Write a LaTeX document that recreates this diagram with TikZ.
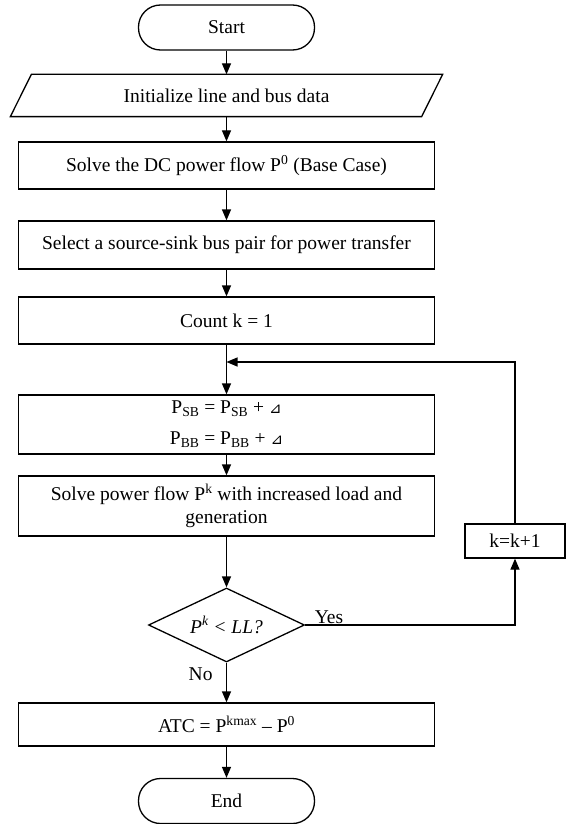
\documentclass[tikz,border=0pt]{standalone}
\usepackage{fontspec}
\setmainfont{Liberation Serif}
\newfontfamily\symfont{DejaVu Sans}
\usetikzlibrary{arrows.meta,shapes.geometric}
\newcommand{\stepsym}{{\symfont\fontsize{15}{15}\selectfont ⊿}}

\begin{document}
\begin{tikzpicture}[x=1pt,y=-1pt,>={Triangle[length=11pt,width=9pt]},
  font=\fontsize{19.5}{23}\selectfont,line width=1.3pt,
  box/.style={draw,minimum width=416pt,inner sep=2pt,align=center},
  term/.style={draw,rounded corners=22pt,minimum width=176pt,minimum height=45pt},
  iobox/.style={minimum width=410pt,minimum height=41pt,inner sep=2pt},
  decide/.style={draw,diamond,aspect=2.1,minimum width=156pt,minimum height=74pt,inner sep=0pt}]
\useasboundingbox (0,0) rectangle (565,824);
\node[term] (start) at (226.5,27.5) {Start};
\node[iobox] (init) at (226.5,95.5) {Initialize line and bus data};
\draw ([xshift=-10.5pt]init.south west) -- ([xshift=10.5pt]init.north west)
  -- ([xshift=10.5pt]init.north east) -- ([xshift=-10.5pt]init.south east) -- cycle;
\node[box,minimum height=47pt] (dcflow) at (226.5,165.5) {Solve the DC power flow P\textsuperscript{0} (Base Case)};
\node[box,minimum height=48pt] (select) at (226.5,245) {Select a source-sink bus pair for power transfer};
\node[box,minimum height=47pt] (count) at (226.5,320.5) {Count k = 1};
\coordinate (join) at (226.5,362);
\node[box,minimum height=59pt] (incr) at (226.5,424.5) {P\textsubscript{SB} = P\textsubscript{SB} + \stepsym\\[8pt]P\textsubscript{BB} = P\textsubscript{BB} + \stepsym};
\node[box,minimum height=60pt] (solve) at (226.5,506) {Solve power flow P\textsuperscript{k} with increased load and\\generation};
\node[decide] (check) at (226.5,625) {\itshape P\textsuperscript{k} < LL?};
\node[box,minimum height=43pt] (atc) at (226.5,724.5) {ATC = P\textsuperscript{kmax} \textendash\ P\textsuperscript{0}};
\node[term] (stop) at (226.5,801) {End};
\node[draw,minimum width=100pt,minimum height=34pt] (kinc) at (515,541) {k=k+1};
% main flow
\draw[->] (start) -- (init);
\draw[->] (init) -- (dcflow);
\draw[->] (dcflow) -- (select);
\draw[->] (select) -- (count);
\draw[->] (count) -- (incr);
\draw[->] (incr) -- (solve);
\draw[->] (solve) -- (check);
\draw[->] (check) -- node[pos=0.3,left=10pt]{No} (atc);
\draw[->] (atc) -- (stop);
% loop back
\draw[->] (check.east) node[anchor=south west,xshift=8pt,inner sep=1pt]{Yes} -| (kinc.south);
\draw[->] (kinc.north) |- (join);
\end{tikzpicture}
\end{document}
